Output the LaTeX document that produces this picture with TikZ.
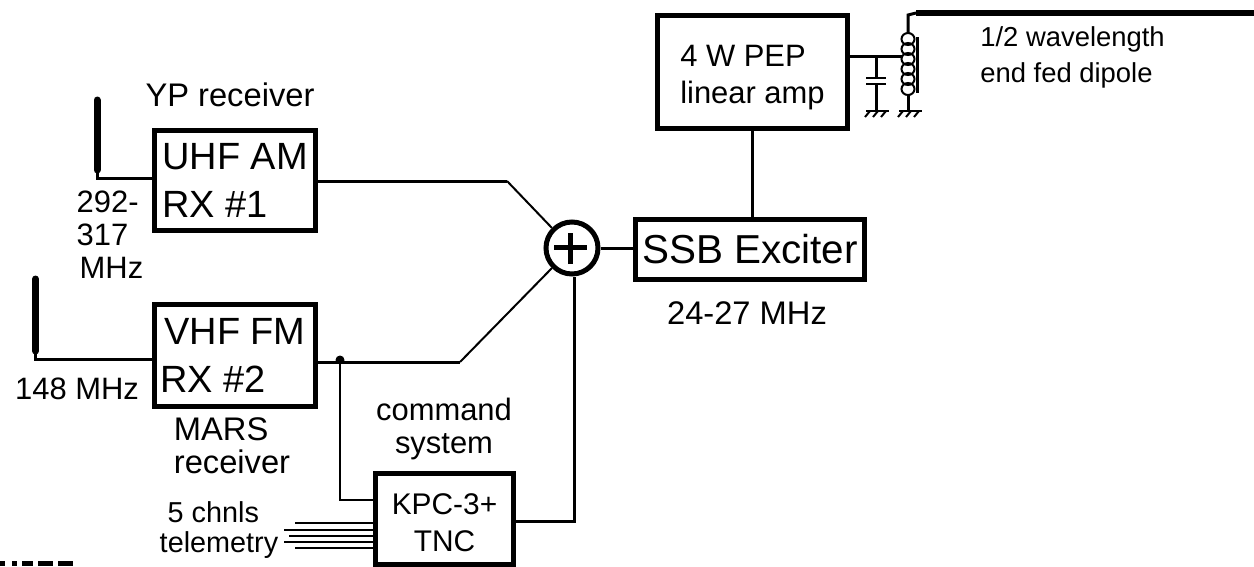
\documentclass[tikz,border=0pt]{standalone}
\usepackage{fontspec}
\setmainfont{Liberation Sans}
\usetikzlibrary{positioning,calc}
\newcommand{\fontbox}{\fontsize{21.6}{27.3}\selectfont}
\newcommand{\fontlbl}{\fontsize{17.6}{18.8}\selectfont}
\newcommand{\fontwide}{\fontsize{18.6}{18.8}\selectfont}
\newcommand{\fontsmall}{\fontsize{15.6}{20.5}\selectfont}
\tikzset{
  blockbox/.style={draw,line width=1mm,inner sep=0pt,align=left,font=\fontbox},
  wire/.style={line width=0.6mm},
  thinwire/.style={line width=0.4mm},
  whip/.style={line width=1.4mm,line cap=round},
  lbl/.style={inner sep=0pt,align=left,font=\fontlbl},
}
\begin{document}
\begin{tikzpicture}[x=0.2mm,y=-0.2mm]
  \useasboundingbox (0,0) rectangle (1254,566);
  % blocks
  \node[blockbox,minimum width=32.2mm,minimum height=20mm] (uhf) at (235,180.5) {UHF AM\\RX \#1};
  \node[blockbox,minimum width=32.2mm,minimum height=20.4mm] (vhf) at (235,355.5) {VHF FM\\\hspace*{-0.8mm}RX \#2};
  \node[blockbox,minimum width=27.6mm,minimum height=18.3mm,align=center,font=\fontsize{17}{21}\selectfont] (tnc) at (444.5,519) {\rule{0pt}{15.6pt}KPC-3+\\TNC};
  \node[blockbox,minimum width=45.8mm,minimum height=12mm,font=\fontsize{23}{27}\selectfont] (ssb) at (750,249.5) {SSB Exciter};
  \node[blockbox,minimum width=38mm,minimum height=22.6mm,font=\fontsize{17.6}{21}\selectfont] (amp) at (752.5,72) {\rule{0pt}{18.3pt}4 W PEP\\linear amp};
  \node[draw,circle,line width=1mm,minimum size=10.4mm,inner sep=0pt] (sum) at (572,248) {};
  \draw[line width=0.9mm] ([xshift=-3.6mm,yshift=0.1mm]sum.center) -- ([xshift=3mm,yshift=0.1mm]sum.center);
  \draw[line width=0.9mm] ([xshift=-0.3mm,yshift=-3.2mm]sum.center) -- ([xshift=-0.3mm,yshift=3mm]sum.center);
  % labels
  \node[lbl,font=\fontwide] (yp) at (230,95) {YP receiver};
  \node[lbl] (band1) at (110,235) {292-\\317\\\hspace*{0.6mm}MHz};
  \node[lbl] (band2) at (77,389) {148 MHz};
  \node[lbl,font=\fontwide] (mars) at (232,446) {MARS\\receiver};
  \node[lbl,align=center] (cmd) at (444,429) {command\\system};
  \node[lbl,font=\fontsize{16.4}{20.5}\selectfont] (chnls) at (219,530) {\hspace*{1.6mm}5 chnls\\[-3.4pt]telemetry};
  \node[lbl,font=\fontwide] (freq) at (747,313) {24-27 MHz};
  \node[lbl,font=\fontsmall,anchor=west] (dipole) at (980,57) {1/2 wavelength\\end fed dipole};
  % antennas
  \coordinate (whip1a) at (97,100);
  \coordinate (whip1b) at (97,170);
  \coordinate (feed1) at (97,178);
  \coordinate (whip2a) at (35.5,279);
  \coordinate (whip2b) at (35.5,351);
  \coordinate (feed2) at (35.5,359);
  \draw[whip] (whip1a) -- (whip1b);
  \draw[whip] (whip2a) -- (whip2b);
  \draw[wire] (whip1b) -- (feed1) -- (uhf.west |- feed1);
  \draw[wire] (whip2b) -- (feed2) -- (vhf.west |- feed2);
  % summing
  \coordinate (bend1) at (507,181);
  \coordinate (bend2) at (460,362);
  \coordinate (tap) at (340,362);
  \coordinate (tncin) at (340,500);
  \coordinate (tncout) at (574,521);
  \draw[wire] (uhf.east |- bend1) -- (bend1);
  \draw[thinwire] (bend1) -- (sum.135);
  \draw[wire] (vhf.east |- bend2) -- (bend2);
  \draw[thinwire] (bend2) -- (sum.225);
  \fill (340,360) circle (4.5);
  \draw[thinwire] (tap) -- (tncin) -- (tnc.west |- tncin);
  \draw[wire] (tnc.east |- tncout) -- (tncout) -- (sum.south -| tncout);
  \draw[wire] (sum.east) -- (ssb.west |- sum.east);
  \draw[wire] (amp.south) -- (ssb.north -| amp.south);
  % telemetry
  \foreach \tx/\ty [count=\i] in {295/523,284/530,289/536,284/542,295/548} {
    \coordinate (tm\i) at (\tx,\ty);
    \draw[thinwire] (tm\i) -- (tnc.west |- tm\i);
  }
  % output network
  \coordinate (rf) at (903,56);
  \coordinate (capa) at (876,56);
  \coordinate (capb) at (876,78);
  \coordinate (capc) at (876,84);
  \coordinate (capd) at (876,111);
  \coordinate (coila) at (908,33);
  \coordinate (coilb) at (908,95);
  \coordinate (coilc) at (908,111);
  \coordinate (top) at (908,15);
  \coordinate (topb) at (916,13);
  \coordinate (topc) at (1254,13);
  \draw[wire] (amp.east |- rf) -- (rf);
  \draw[wire] (capa) -- (capb);
  \draw[wire] (capc) -- (capd);
  \draw[line width=0.5mm] (866,78) -- (886,78);
  \draw[line width=0.5mm] (866,84) -- (886,84);
  \foreach \cy in {39,49,59,69,79,89} \draw[line width=0.4mm] (908,\cy) ellipse (6.5 and 6);
  \draw[wire] (917,37) -- (917,93);
  \draw[wire] (coilb) -- (coilc);
  \draw[wire] (coila) -- (top) -- (topb);
  \draw[line width=1.2mm] (topb) -- (topc);
  % grounds
  \foreach \gx in {877,910} {
    \draw[thinwire] (\gx-11,111) -- (\gx+12,111);
    \foreach \dx in {-7,1,9} \draw[thinwire] (\gx+\dx,111) -- (\gx+\dx-5,117);
  }
  % cut off text at the lower edge
  \foreach \ax/\bx in {0/5,12/17,22/33,38/53,58/73} \fill (\ax,561) rectangle (\bx,566);
\end{tikzpicture}
\end{document}
